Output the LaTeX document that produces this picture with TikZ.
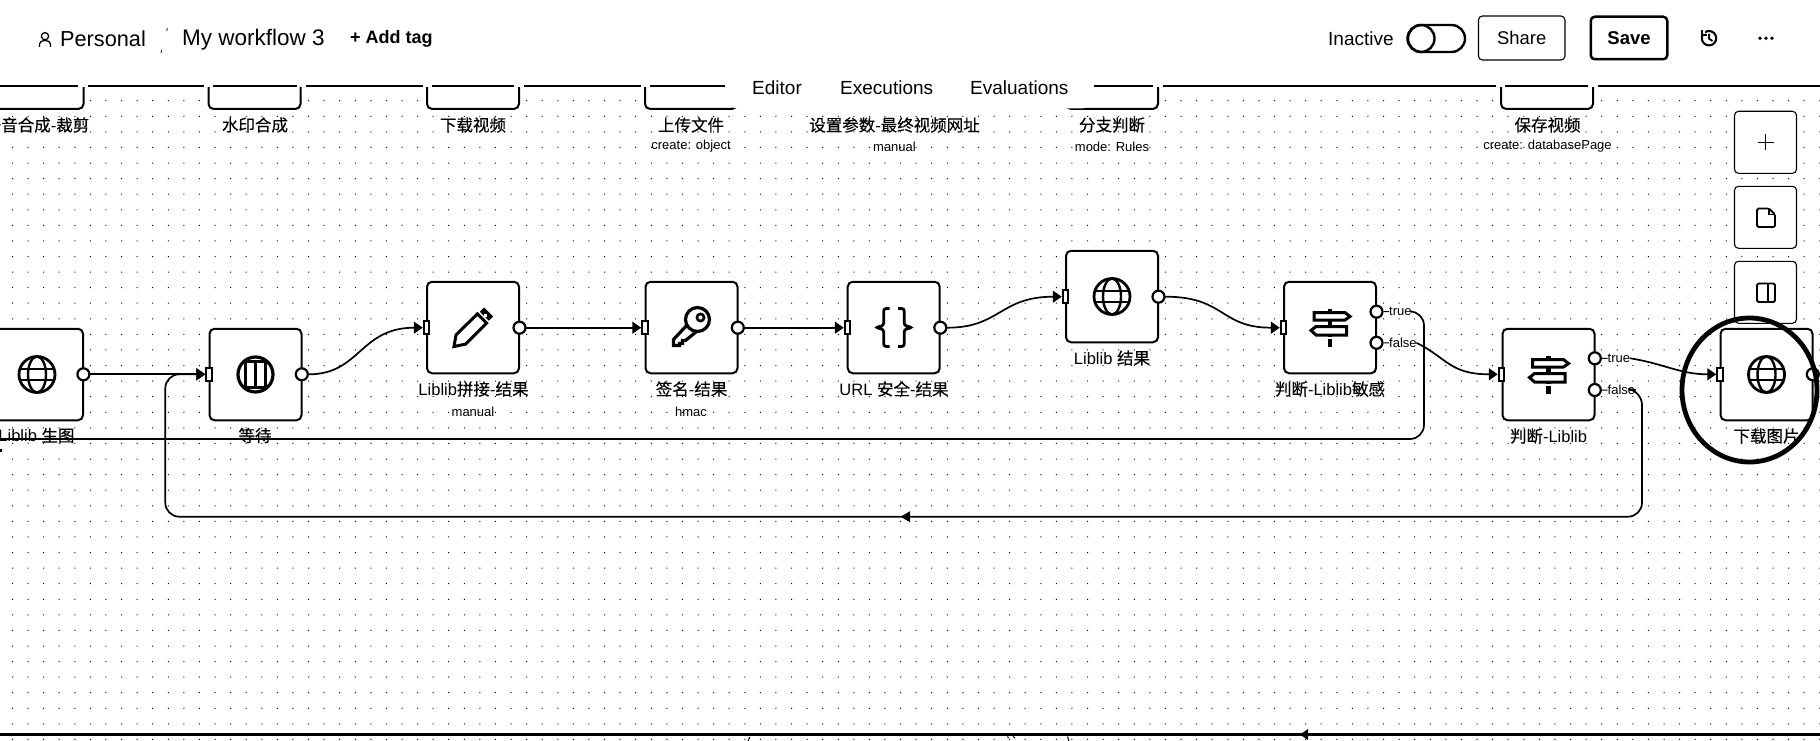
\documentclass[tikz,border=0pt]{standalone}
\usepackage{fontspec}
\usetikzlibrary{arrows.meta,calc}
\setmainfont{Liberation Sans}
\newfontfamily\cjkf[FakeBold=0.25]{Noto Sans CJK SC}
\newcommand{\zhc}[1]{{\cjkf #1}}
\tikzset{
  flownode/.style={draw=black,fill=white,line width=2pt,rounded corners=5pt,minimum width=92pt,minimum height=91.5pt,inner sep=0pt},
  outport/.style={circle,draw=black,fill=white,line width=2.2pt,minimum size=12pt,inner sep=0pt},
  inport/.style={rectangle,draw=black,fill=white,line width=2pt,minimum width=5.5pt,minimum height=12.5pt,inner sep=0pt},
  nlabel/.style={inner sep=0pt,font=\fontsize{16.5}{18}\selectfont},
  sublabel/.style={inner sep=0pt,font=\fontsize{13}{15}\selectfont},
  headtxt/.style={inner sep=0pt,font=\fontsize{19}{22}\selectfont},
  conn/.style={draw=black,line width=1.7pt,line cap=round},
  flowarrow/.style={conn,-{Triangle[length=9pt,width=12pt]}},
  sidebtn/.style={draw=black,fill=white,line width=1.1pt,rounded corners=4pt,minimum width=62pt,minimum height=62pt,inner sep=0pt},
  topline/.style={draw=black,line width=1.4pt},
  globeicon/.pic={
    \draw[line width=2.8pt] (0,0) circle[radius=18pt];
    \draw[line width=2.4pt] (0,0) ellipse[x radius=9pt,y radius=18pt];
    \draw[line width=2.6pt] (-17,-5.5) -- (17,-5.5) (-17,5.5) -- (17,5.5);
  },
  signicon/.pic={
    \fill (-2.2,-19) rectangle (2.2,19);
    \draw[line width=3pt,fill=white] (-16,-15) -- (15,-15) -- (20,-11) -- (15,-7.5) -- (-16,-7.5) -- cycle;
    \draw[line width=3pt,fill=white] (16.5,-1) -- (-14,-1) -- (-19,3) -- (-14,7.5) -- (16.5,7.5) -- cycle;
    \fill[white] (-2.2,9) rectangle (2.2,11);
  },
}
\begin{document}
\begin{tikzpicture}[x=1pt,y=-1pt]
\clip (0,0) rectangle (1820,741);
\fill[white] (0,0) rectangle (1820,741);
% dot grid
\fill[black] \foreach \i in {0,...,116} {\foreach \j in {0,...,41} {({12+15.58*\i},{100.2+15.58*\j}) rectangle +(1,1)}};

% nodes of the flow
\node[flownode] (n0) at (37,374.5) {};
\node[flownode] (n1) at (255.5,374.5) {};
\node[flownode] (n2) at (473,327.5) {};
\node[flownode] (n3) at (691.5,327.5) {};
\node[flownode] (n4) at (893.7,327.5) {};
\node[flownode] (n5) at (1112,296.5) {};
\node[flownode] (n6) at (1330,327.5) {};
\node[flownode] (n7) at (1548.5,374.5) {};
\node[flownode] (n8) at (1766.5,374.5) {};

% ports
\node[outport] (o0) at (83.4,374.3) {};
\node[inport] (i1) at (209,374.3) {};
\node[outport] (o1) at (301.8,374.3) {};
\node[inport] (i2) at (426.5,327.7) {};
\node[outport] (o2) at (519.5,327.7) {};
\node[inport] (i3) at (645,327.7) {};
\node[outport] (o3) at (737.8,327.7) {};
\node[inport] (i4) at (847.5,327.7) {};
\node[outport] (o4) at (940.3,327.7) {};
\node[inport] (i5) at (1065.5,296.7) {};
\node[outport] (o5) at (1158.5,296.7) {};
\node[inport] (i6) at (1283.5,327.7) {};
\node[outport] (tp1) at (1376.5,311.7) {};
\node[outport] (fp1) at (1376.5,342.8) {};
\node[inport] (i7) at (1501.5,374.3) {};
\node[outport] (tp2) at (1594.8,358.3) {};
\node[outport] (fp2) at (1594.8,390) {};
\node[inport] (i8) at (1720,374.3) {};
\node[outport] (o8) at (1812.8,374.3) {};

% port labels
\node[sublabel,anchor=west] (t1) at (1389,311.5) {true};
\node[sublabel,anchor=west] (f1) at (1389,343) {false};
\node[sublabel,anchor=west] (t2) at (1607.5,358.3) {true};
\node[sublabel,anchor=west] (f2) at (1607.5,390) {false};
\draw[line width=1pt] (tp1.east) -- (t1.west) (fp1.east) -- (f1.west) (tp2.east) -- (t2.west) (fp2.east) -- (f2.west);

% connectors
\coordinate (left439) at (0,439);
\draw[flowarrow] (o0.east) -- (i1.west);
\draw[flowarrow] (o1.east) .. controls (360,374.3) and (360,327.7) .. (i2.west);
\draw[flowarrow] (o2.east) -- (i3.west);
\draw[flowarrow] (o3.east) -- (i4.west);
\draw[flowarrow] (o4.east) .. controls (1000,327.7) and (1000,296.7) .. (i5.west);
\draw[flowarrow] (o5.east) .. controls (1225,296.7) and (1220,327.7) .. (i6.west);
\draw[flowarrow] (f1.east) .. controls (1447,358) and (1450,374.3) .. (i7.west);
\draw[flowarrow] (t2.east) .. controls (1665,364) and (1680,374.3) .. (i8.west);
\draw[conn,rounded corners=14pt] (t1.east) -- (1424,311.5) -- (1424,439) -- (left439);
\draw[flowarrow,rounded corners=14pt] (f2.east) -- (1642,391) -- (1642,516.7) -- (165.3,516.7) -- (165.3,374.3) -- (i1.west);
\fill (900.5,516.7) -- (910,511.2) -- (910,522.2) -- cycle;

% icons
\pic at (n0) {globeicon};
\pic at (n5) {globeicon};
\pic at (n8) {globeicon};
\pic at (n6) {signicon};
\pic at (n7) {signicon};
% wait icon
\begin{scope}[shift={(n1)}]
\draw[line width=3.2pt] (0,0) circle[radius=17.5pt];
\draw[line width=2.6pt] (-10,-13) rectangle (10,13);
\draw[line width=2.6pt] (0,-13) -- (0,13);
\end{scope}
% pencil icon
\begin{scope}[shift={(n2)}]
\draw[line width=3pt,line join=miter] (-19,19) -- (-17,7.4) -- (4.4,-13.6) -- (13.6,-4.4) -- (-7.4,16.6) -- cycle;
\fill (6.8,-15.8) -- (11,-20) -- (20,-11) -- (15.8,-6.8) -- cycle;
\fill[white] (11,-13.5) rectangle (13.5,-11);
\end{scope}
% key icon
\begin{scope}[shift={(n3)}]
\draw[line width=3.2pt,line join=miter] (-18,18) -- (-18,12) -- (-3,-4) -- (5,4) -- (-6,13) -- (-9,13) -- (-9,16) -- (-12,16) -- (-12,18) -- cycle;
\draw[line width=3.2pt,fill=white] (6,-8) circle[radius=12pt];
\fill[white] (-2,-4.6) -- (2.5,-5) -- (4,1.5) -- (0,-1) -- cycle;
\draw[line width=2.6pt] (9,-10) circle[radius=3.6pt];
\end{scope}
% braces icon
\begin{scope}[shift={(n4)}]
\draw[line width=2.8pt,rounded corners=2.5pt] (-4,-19) -- (-10,-19) -- (-10,-2) -- (-18,0) -- (-10,2) -- (-10,19) -- (-4,19);
\draw[line width=2.8pt,rounded corners=2.5pt] (4.5,-19) -- (10.5,-19) -- (10.5,-2) -- (18.5,0) -- (10.5,2) -- (10.5,19) -- (4.5,19);
\end{scope}

% flow labels
\node[nlabel] (l0) at (36.5,435.5) {Liblib \zhc{生图}};
\node[nlabel] (l1) at (255,435.5) {\zhc{等待}};
\node[nlabel] (l2) at (473.5,389) {Liblib\zhc{拼接}-\zhc{结果}};
\node[sublabel] (s2) at (473,411.5) {manual};
\node[nlabel] (l3) at (691.5,389) {\zhc{签名}-\zhc{结果}};
\node[sublabel] (s3) at (691,411.5) {hmac};
\node[nlabel] (l4) at (894,389) {URL \zhc{安全}-\zhc{结果}};
\node[nlabel] (l5) at (1112,358) {Liblib \zhc{结果}};
\node[nlabel] (l6) at (1330,389) {\zhc{判断}-Liblib\zhc{敏感}};
\node[nlabel] (l7) at (1548.5,436) {\zhc{判断}-Liblib};
\node[nlabel] (l8) at (1766.5,436) {\zhc{下载图片}};
\fill (0,448.5) rectangle (2,451.5);

% top nodes, cut by the header
\node[flownode] (ta) at (37.5,63.2) {};
\node[flownode] (tb) at (254.5,63.2) {};
\node[flownode] (tc) at (473,63.2) {};
\node[flownode] (td) at (691,63.2) {};
\node[flownode] (te) at (1112,63.2) {};
\node[flownode] (tf) at (1547,63.2) {};
\node[nlabel] (la) at (37,125) {\zhc{语音合成}-\zhc{裁剪}};
\node[nlabel] (lb) at (255,125) {\zhc{水印合成}};
\node[nlabel] (lc) at (473,125) {\zhc{下载视频}};
\node[nlabel] (ld) at (691,125) {\zhc{上传文件}};
\node[sublabel] (sd) at (691,146.5) {create: object};
\node[nlabel] (lx) at (894.5,125) {\zhc{设置参数}-\zhc{最终视频网址}};
\node[sublabel] (sx) at (894.5,146.5) {manual};
\node[nlabel] (le) at (1112,125) {\zhc{分支判断}};
\node[sublabel] (se) at (1112,146.5) {mode: Rules};
\node[nlabel] (lf) at (1547.5,125) {\zhc{保存视频}};
\node[sublabel] (sf) at (1547.5,146.5) {create: databasePage};

% header band
\fill[white] (0,0) rectangle (1820,87.2);
\fill[white,rounded corners=8pt] (729,60) rectangle (1090,108.4);
\draw[topline] (0,86) -- (78,86) (88,86) -- (204,86) (213,86) -- (297,86) (306,86) -- (423,86) (432,86) -- (514,86) (524,86) -- (641,86) (650,86) -- (725,86) (1094,86) -- (1153,86) (1163,86) -- (1496,86) (1505,86) -- (1588,86) (1597.5,86) -- (1820,86);

% tabs
\node[headtxt,anchor=west] (tab1) at (752,88) {Editor};
\node[headtxt,anchor=west] (tab2) at (840,88) {Executions};
\node[headtxt,anchor=west] (tab3) at (970,88) {Evaluations};

% breadcrumb
\draw[line width=1.3pt] (45,36.2) circle[radius=3.6pt];
\draw[line width=1.3pt] (39.5,47) -- (39.5,44) arc[start angle=180,end angle=360,x radius=5.5pt,y radius=-3.6pt] -- (50.5,47);
\node[inner sep=0pt,anchor=west,font=\fontsize{21.7}{24}\selectfont] (pers) at (60,39) {Personal};
\draw[line width=.8pt] (167.3,28) -- (166.8,31) (161.5,50) -- (161,53);
\node[inner sep=0pt,anchor=west,font=\fontsize{22.5}{24}\selectfont] (wf) at (182,39.5) {My workflow 3};
\node[inner sep=0pt,anchor=west,font=\fontsize{18}{22}\bfseries\selectfont] (tag) at (350,38.5) {+ Add tag};

% right of the header
\node[headtxt,anchor=west] (inact) at (1328,38.5) {Inactive};
\draw[line width=2.4pt,rounded corners=13.5pt] (1408,25) rectangle (1465,52);
\draw[line width=2.4pt] (1421,38.5) circle[radius=13.5pt];
\node[draw=black,line width=1.1pt,rounded corners=4pt,minimum width=86.5pt,minimum height=44pt,inner sep=0pt,font=\fontsize{18.4}{22}\selectfont] (share) at (1521.7,38) {Share};
\node[draw=black,line width=2.5pt,rounded corners=4pt,minimum width=76.5pt,minimum height=42.5pt,inner sep=0pt,font=\fontsize{18.5}{22}\bfseries\selectfont] (save) at (1629,38) {Save};
% history icon
\draw[line width=2.1pt] (1709,38.2) circle[radius=7.2pt];
\fill[white] (1700,30) rectangle (1705,34.5);
\draw[line width=1.9pt] (1702.3,30) -- (1702.3,35) -- (1707,35);
\draw[line width=1.7pt] (1709,34) -- (1709,38.7) -- (1712.5,41);
\foreach \dx in {1760,1766,1772}{\fill (\dx,38.3) circle[radius=1.9pt];}

% side buttons
\node[sidebtn] (b1) at (1765.5,142.3) {};
\node[sidebtn] (b2) at (1765.5,217.3) {};
\node[sidebtn] (b3) at (1765.5,292.3) {};
\draw[line width=1.5pt] (b1.center) ++(-8,0) -- ++(16,0) (b1.center) ++(0,-8) -- ++(0,16);
\draw[line width=1.8pt,rounded corners=1.5pt] (1757,208.5) -- (1769,208.5) -- (1775,214.5) -- (1775,227) -- (1757,227) -- cycle;
\draw[line width=1.3pt] (1769,208.5) -- (1769,214.5) -- (1775,214.5);
\draw[line width=1.8pt,rounded corners=1.5pt] (1757,283.5) rectangle (1775,302);
\draw[line width=1.8pt] (1768.3,283.5) -- (1768.3,302);

% hand-drawn ring
\draw[line width=4.8pt] (1749.5,390) ellipse[x radius=67.5pt,y radius=72pt];

% bottom edge
\coordinate (bl) at (0,734.5);
\coordinate (br) at (1820,734.5);
\draw[line width=2.3pt] (bl) -- (br);
\fill (1300,734.5) -- (1308,729) -- (1308,740) -- cycle;
\draw[line width=1pt] (749.8,737) -- (748,741);
\draw[line width=1pt] (1007.5,736.5) -- (1008.5,738) (1013,736.5) -- (1015,738);
\draw[line width=1pt] (1067.5,736.5) -- (1069,741);
\end{tikzpicture}
\end{document}
